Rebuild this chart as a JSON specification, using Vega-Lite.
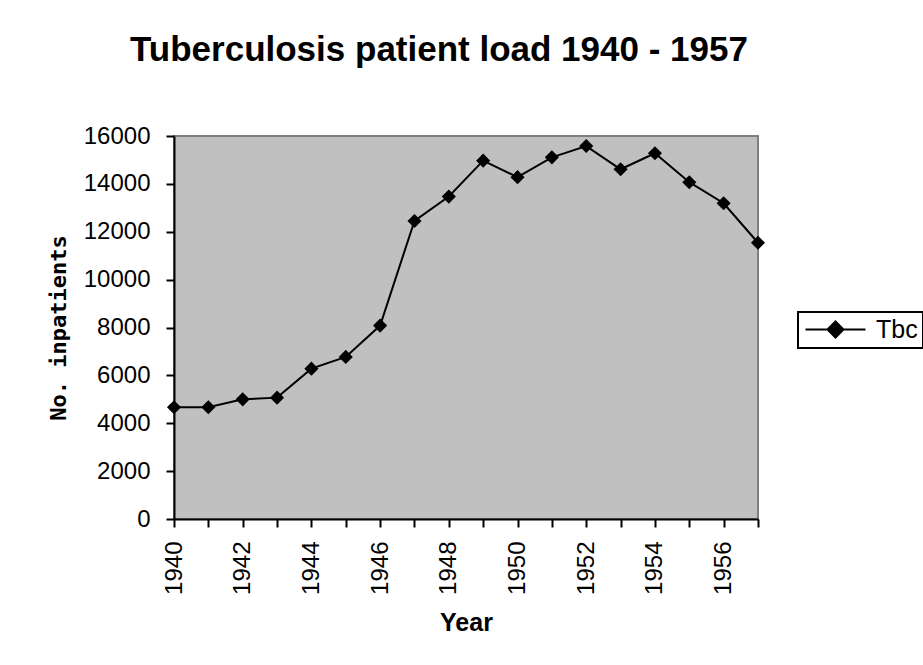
{
  "$schema": "https://vega.github.io/schema/vega-lite/v6.json",
  "width": 584,
  "height": 383,
  "autosize": {"type": "none"},
  "padding": {"left": 174, "top": 136, "right": 165, "bottom": 146},
  "background": "white",
  "title": {
    "text": "Tuberculosis patient load 1940 - 1957",
    "font": "Liberation Sans",
    "fontSize": 35,
    "fontWeight": "bold",
    "color": "black",
    "anchor": "middle",
    "frame": "group",
    "baseline": "alphabetic",
    "offset": 28,
    "dx": -27
  },
  "data": {
    "values": [
      {"year": 1940, "patients": 4670, "series": "Tbc"},
      {"year": 1941, "patients": 4670, "series": "Tbc"},
      {"year": 1942, "patients": 5000, "series": "Tbc"},
      {"year": 1943, "patients": 5070, "series": "Tbc"},
      {"year": 1944, "patients": 6280, "series": "Tbc"},
      {"year": 1945, "patients": 6770, "series": "Tbc"},
      {"year": 1946, "patients": 8080, "series": "Tbc"},
      {"year": 1947, "patients": 12450, "series": "Tbc"},
      {"year": 1948, "patients": 13470, "series": "Tbc"},
      {"year": 1949, "patients": 14970, "series": "Tbc"},
      {"year": 1950, "patients": 14280, "series": "Tbc"},
      {"year": 1951, "patients": 15110, "series": "Tbc"},
      {"year": 1952, "patients": 15580, "series": "Tbc"},
      {"year": 1953, "patients": 14610, "series": "Tbc"},
      {"year": 1954, "patients": 15280, "series": "Tbc"},
      {"year": 1955, "patients": 14070, "series": "Tbc"},
      {"year": 1956, "patients": 13190, "series": "Tbc"},
      {"year": 1957, "patients": 11540, "series": "Tbc"}
    ]
  },
  "encoding": {
    "x": {
      "field": "year",
      "type": "quantitative",
      "scale": {"domain": [1940, 1957], "nice": false, "zero": false},
      "axis": {
        "title": "Year",
        "values": [1940,1941,1942,1943,1944,1945,1946,1947,1948,1949,1950,1951,1952,1953,1954,1955,1956,1957],
        "format": "d",
        "labelExpr": "datum.value % 2 === 0 ? datum.label : ''",
        "labelAngle": -90,
        "labelPadding": 14,
        "titlePadding": 16,
        "titleFontSize": 25
      }
    },
    "y": {
      "field": "patients",
      "type": "quantitative",
      "scale": {"domain": [0, 16000], "nice": false},
      "axis": {
        "title": "No. inpatients",
        "values": [0,2000,4000,6000,8000,10000,12000,14000,16000],
        "format": "d",
        "labelPadding": 16,
        "titlePadding": 13,
        "titleFont": "DejaVu Sans Mono",
        "titleFontSize": 22
      }
    },
    "color": {
      "field": "series",
      "type": "nominal",
      "scale": {"range": ["black"]},
      "legend": {
        "title": null,
        "orient": "none",
        "legendX": 624,
        "legendY": 176,
        "symbolType": "M-1,0H5M2,-0.8L2.8,0L2,0.8L1.2,0Z",
        "symbolSize": 400,
        "symbolStrokeWidth": 2,
        "symbolFillColor": "black",
        "symbolStrokeColor": "black",
        "labelFont": "Liberation Sans",
        "labelFontSize": 25,
        "labelColor": "black",
        "labelOffset": 48,
        "padding": 5,
        "strokeColor": "black",
        "encode": {"legend": {"update": {"strokeWidth": {"value": 2}}}}
      }
    }
  },
  "layer": [
    {"mark": {"type": "line", "strokeWidth": 2, "clip": false}},
    {"mark": {"type": "point", "shape": "diamond", "size": 200, "filled": true, "opacity": 1, "clip": false}}
  ],
  "config": {
    "view": {"fill": "#C0C0C0", "stroke": "#808080", "strokeWidth": 2},
    "axis": {
      "grid": false,
      "domainColor": "black",
      "domainWidth": 2,
      "tickColor": "black",
      "tickWidth": 2,
      "tickSize": 8,
      "labelFont": "Liberation Sans",
      "labelFontSize": 24,
      "labelColor": "black",
      "titleFont": "Liberation Sans",
      "titleFontSize": 22,
      "titleFontWeight": "bold",
      "titleColor": "black"
    }
  }
}
